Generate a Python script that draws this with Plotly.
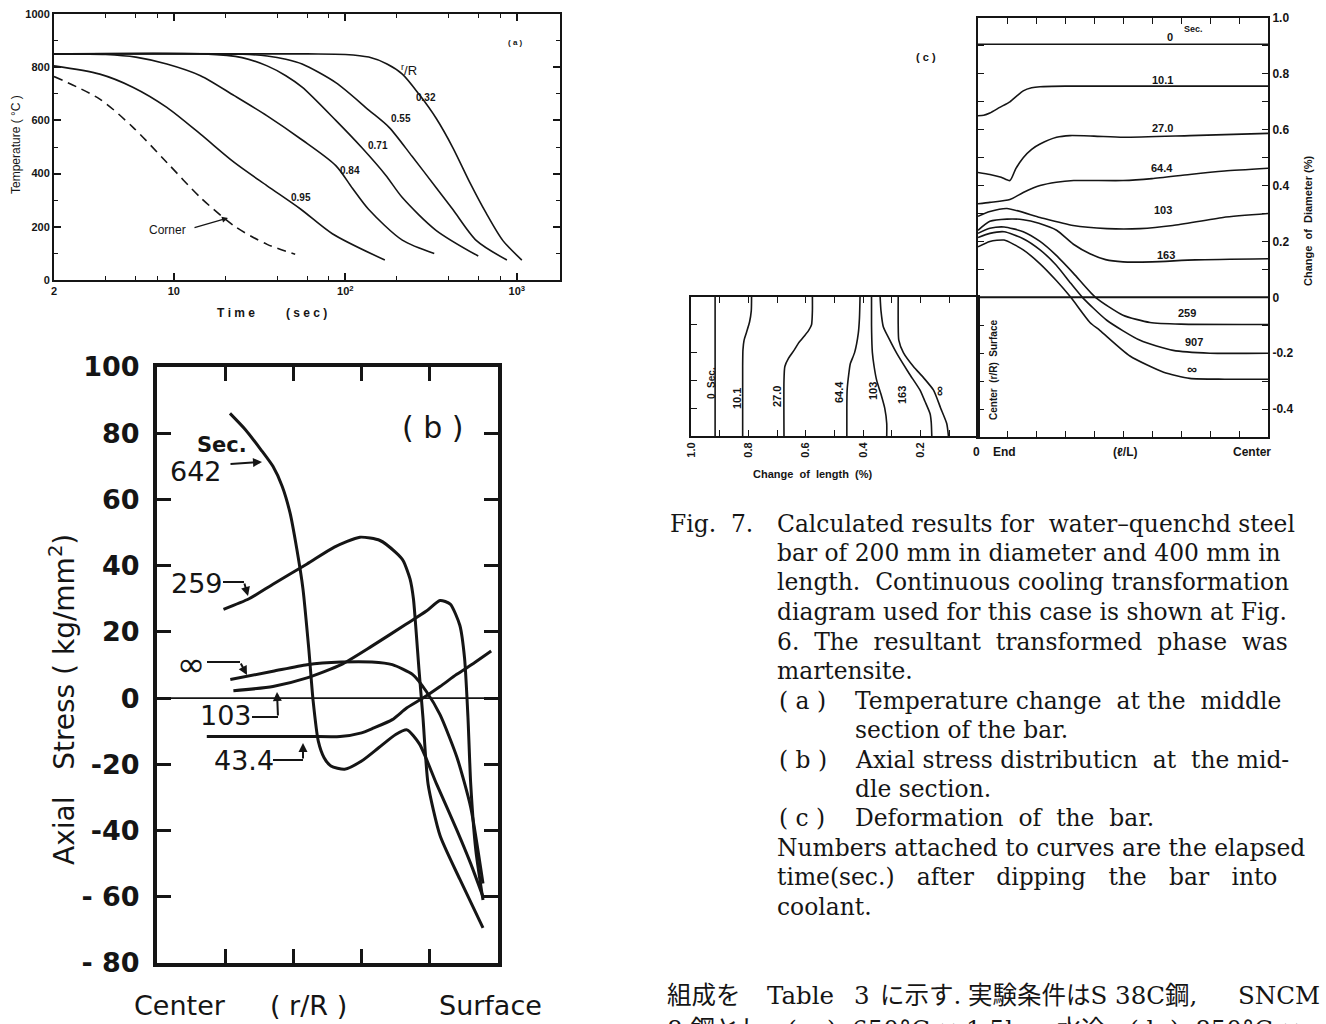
import numpy as np
import plotly.graph_objects as go

W, H = 1326, 1024
INK = "#151515"
SANS = "DejaVu Sans"
ARIAL = "Liberation Sans"
SERIF = "DejaVu Serif, Noto Sans CJK JP"


def px(x):
    return x / W


def py(y):
    return 1 - y / H


# ---------------- (a) temperature vs time ----------------
a_t_corner = [2, 3.7, 5.8, 9.1, 14.3, 22.5, 35, 51]
a_T_corner = [765, 680, 573, 442, 310, 203, 134, 97]
a_t_095 = [2, 3.7, 5.8, 9.1, 14.3, 22.5, 35, 55, 84, 170]
a_T_095 = [805, 774, 724, 649, 548, 442, 354, 266, 174, 75]
a_t_084 = [2, 4, 6, 9.1, 14.3, 22.5, 35, 55, 88, 110, 137, 215, 330]
a_T_084 = [850, 848, 838, 812, 768, 693, 617, 530, 430, 345, 265, 150, 100]
a_t_071 = [2, 15, 25, 35, 45, 56, 88, 125, 172, 215, 338, 596]
a_T_071 = [850, 850, 836, 805, 768, 725, 600, 497, 394, 310, 187, 90]
a_t_055 = [2, 25, 35, 45, 56, 88, 137, 180, 245, 338, 424, 582, 876]
a_T_055 = [850, 849, 842, 830, 812, 742, 639, 574, 465, 348, 265, 148, 75]
a_t_032 = [2, 60, 100, 137, 175, 215, 270, 340, 424, 531, 662, 830, 1070]
a_T_032 = [850, 850, 848, 838, 812, 774, 697, 606, 497, 368, 252, 148, 75]
a_xtickvals = [2, 10, 100, 1000]
a_xticktext = ["2", "10", "10<sup>2</sup>", "10<sup>3</sup>"]
a_xminor = [4, 6, 8, 20, 40, 60, 80, 200, 400, 600, 800]
a_ytickvals = [0, 200, 400, 600, 800, 1000]
a_yticktext = ["0", "200", "400", "600", "800", "1000"]
a_yminor = [100, 300, 500, 700, 900]

# ---------------- (b) axial stress vs r/R ----------------
b_x_642 = [0.214, 0.26, 0.305, 0.34, 0.367, 0.39, 0.41, 0.428, 0.445, 0.458, 0.473,
           0.49, 0.51, 0.55, 0.6, 0.65, 0.7, 0.733, 0.77, 0.82, 0.88, 0.92, 0.956]
b_s_642 = [86, 81, 75, 70, 64, 56, 45, 33, 15, -1, -13,
           -18, -20.5, -21.5, -19, -15, -11, -9.6, -13.9, -26, -40, -50, -60]
b_x_259 = [0.195, 0.27, 0.34, 0.44, 0.52, 0.595, 0.654, 0.70, 0.722, 0.742, 0.752,
           0.76, 0.768, 0.78, 0.795, 0.83, 0.888, 0.956]
b_s_259 = [26.8, 30, 34.4, 40.5, 45.6, 48.6, 47.6, 44, 41.5, 36, 30,
           20, 9, -6, -26, -41.5, -54.7, -69.4]
b_x_inf = [0.215, 0.34, 0.44, 0.54, 0.63, 0.69, 0.75, 0.79, 0.83, 0.88, 0.92, 0.956]
b_s_inf = [5.6, 8.1, 10.1, 10.9, 10.9, 10.1, 7.1, 2, -5, -18, -33, -56]
b_x_103 = [0.224, 0.34, 0.44, 0.54, 0.63, 0.73, 0.79, 0.83, 0.86, 0.888, 0.902,
           0.912, 0.92, 0.935, 0.956]
b_s_103 = [2.2, 3.5, 6.1, 10.1, 15.7, 22.3, 26.3, 29.5, 28.4, 22, 12,
           -6, -26, -46, -61]
b_x_434 = [0.146, 0.3, 0.45, 0.537, 0.6, 0.634, 0.69, 0.732, 0.78, 0.83, 0.878, 0.93, 0.98]
b_s_434 = [-11.6, -11.6, -11.6, -11.6, -10.5, -9.1, -6.5, -3, 0, 3.5, 7.1, 10.6, 14.2]
b_ytickvals = [-80, -60, -40, -20, 0, 20, 40, 60, 80, 100]
b_yticktext = ["- 80", "- 60", "-40", "-20", "0", "20", "40", "60", "80", "100"]
b_xtickvals = [0.2, 0.4, 0.6, 0.8]

# ---------------- (c) change of diameter vs l/L ----------------
c_u_0 = [0, 1]
c_d_0 = [0.906, 0.906]
c_u_101 = [0, 0.02, 0.041, 0.075, 0.11, 0.135, 0.156, 0.185, 0.214, 0.3, 1.0]
c_d_101 = [0.65, 0.652, 0.66, 0.68, 0.70, 0.722, 0.739, 0.75, 0.754, 0.756, 0.756]
c_u_270 = [0, 0.041, 0.08, 0.11, 0.13, 0.156, 0.185, 0.214, 0.271, 0.317, 0.4, 0.501, 0.731, 1.0]
c_d_270 = [0.447, 0.44, 0.43, 0.418, 0.46, 0.5, 0.53, 0.549, 0.573, 0.579, 0.577, 0.573, 0.579, 0.587]
c_u_644 = [0, 0.041, 0.11, 0.156, 0.214, 0.27, 0.33, 0.5, 0.6, 0.73, 0.85, 1.0]
c_d_644 = [0.335, 0.34, 0.35, 0.375, 0.40, 0.412, 0.418, 0.418, 0.425, 0.44, 0.452, 0.462]
c_u_103 = [0, 0.041, 0.1, 0.214, 0.328, 0.445, 0.559, 0.672, 0.845, 1.0]
c_d_103 = [0.29, 0.307, 0.318, 0.286, 0.257, 0.246, 0.246, 0.257, 0.286, 0.30]
c_u_163 = [0, 0.041, 0.1, 0.156, 0.21, 0.271, 0.329, 0.386, 0.44, 0.5, 0.6, 0.75, 1.0]
c_d_163 = [0.24, 0.272, 0.28, 0.278, 0.265, 0.24, 0.19, 0.156, 0.135, 0.127, 0.127, 0.134, 0.138]
c_u_259 = [0, 0.041, 0.09, 0.156, 0.214, 0.27, 0.33, 0.405, 0.5, 0.593, 0.7, 1.0]
c_d_259 = [0.229, 0.247, 0.252, 0.235, 0.2, 0.15, 0.085, 0.0, -0.064, -0.09, -0.096, -0.097]
c_u_907 = [0, 0.041, 0.09, 0.156, 0.214, 0.27, 0.32, 0.36, 0.444, 0.559, 0.673, 0.8, 1.0]
c_d_907 = [0.214, 0.229, 0.235, 0.21, 0.17, 0.115, 0.05, 0.0, -0.082, -0.154, -0.19, -0.2, -0.2]
c_u_inf = [0, 0.041, 0.09, 0.156, 0.214, 0.27, 0.32, 0.386, 0.42, 0.524, 0.64, 0.73, 0.85, 1.0]
c_d_inf = [0.181, 0.2, 0.205, 0.17, 0.12, 0.06, 0.0, -0.09, -0.118, -0.21, -0.268, -0.29, -0.293, -0.293]
c_ytickvals = [-0.4, -0.3, -0.2, -0.1, 0, 0.1, 0.2, 0.3, 0.4, 0.5, 0.6, 0.7, 0.8, 0.9, 1.0]
c_yticktext = ["-0.4", "", "-0.2", "", "0", "", "0.2", "", "0.4", "", "0.6", "", "0.8", "", "1.0"]
c_xtickvals = [0.1, 0.2, 0.3, 0.4, 0.5, 0.6, 0.7, 0.8, 0.9]

# ---------------- (c) change of length vs r/R ----------------
l_r_0 = [0, 1]
l_L_0 = [0.916, 0.916]
l_r_101 = [0, 0.5, 0.62, 0.69, 0.75, 0.82, 0.9, 1.0]
l_L_101 = [0.82, 0.82, 0.819, 0.815, 0.806, 0.796, 0.79, 0.789]
l_r_270 = [0, 0.4, 0.5, 0.56, 0.62, 0.67, 0.72, 0.76, 0.8, 0.9, 1.0]
l_L_270 = [0.676, 0.676, 0.673, 0.66, 0.64, 0.625, 0.605, 0.59, 0.58, 0.577, 0.577]
l_r_644 = [0, 0.2, 0.33, 0.45, 0.52, 0.6, 0.74, 0.85, 1.0]
l_L_644 = [0.457, 0.457, 0.456, 0.45, 0.445, 0.43, 0.417, 0.413, 0.411]
l_r_103 = [0, 0.09, 0.2, 0.3, 0.4, 0.5, 0.6, 0.69, 0.8, 1.0]
l_L_103 = [0.318, 0.318, 0.325, 0.338, 0.353, 0.362, 0.368, 0.37, 0.371, 0.371]
l_r_163 = [0, 0.1, 0.16, 0.25, 0.33, 0.45, 0.594, 0.7, 0.786, 0.9, 1.0]
l_L_163 = [0.161, 0.163, 0.167, 0.185, 0.202, 0.24, 0.283, 0.31, 0.33, 0.338, 0.341]
l_r_inf = [0, 0.09, 0.2, 0.33, 0.42, 0.5, 0.6, 0.69, 0.8, 1.0]
l_L_inf = [0.103, 0.109, 0.13, 0.155, 0.19, 0.225, 0.26, 0.276, 0.278, 0.278]
l_xtickvals = [1.0, 0.9, 0.8, 0.7, 0.6, 0.5, 0.4, 0.3, 0.2, 0.1]
l_xticktext = ["1.0", "", "0.8", "", "0.6", "", "0.4", "", "0.2", ""]
l_ytickvals = [0.2, 0.4, 0.6, 0.8]

fig = go.Figure()


def add(x, y, xa, ya, width=1.5, dash=None, smoothing=0.8):
    fig.add_trace(go.Scatter(
        x=x, y=y, mode="lines", xaxis=xa, yaxis=ya, hoverinfo="skip", showlegend=False,
        line=dict(color=INK, width=width, shape="spline", smoothing=smoothing, dash=dash)))


# (a)
add(a_t_corner, a_T_corner, "x", "y", 1.6, dash="9px,6px")
for t, T in [(a_t_095, a_T_095), (a_t_084, a_T_084), (a_t_071, a_T_071),
             (a_t_055, a_T_055), (a_t_032, a_T_032)]:
    add(t, T, "x", "y", 1.6)
# (b)
for x, s in [(b_x_642, b_s_642), (b_x_259, b_s_259), (b_x_inf, b_s_inf),
             (b_x_103, b_s_103), (b_x_434, b_s_434)]:
    add(x, s, "x2", "y2", 3.0, smoothing=0.6)
# (c) upper
for u, d in [(c_u_0, c_d_0), (c_u_101, c_d_101), (c_u_270, c_d_270), (c_u_644, c_d_644),
             (c_u_103, c_d_103), (c_u_163, c_d_163), (c_u_259, c_d_259),
             (c_u_907, c_d_907), (c_u_inf, c_d_inf)]:
    add(u, d, "x3", "y3", 1.6, smoothing=0.6)
# (c) lower
for L, r in [(l_L_0, l_r_0), (l_L_101, l_r_101), (l_L_270, l_r_270), (l_L_644, l_r_644),
             (l_L_103, l_r_103), (l_L_163, l_r_163), (l_L_inf, l_r_inf)]:
    add(L, r, "x4", "y4", 1.6, smoothing=0.6)


def axis_style(lw, tl, tw, fs=10, family=ARIAL):
    return dict(showline=True, linecolor=INK, linewidth=lw, mirror="ticks", ticks="inside",
                ticklen=tl, tickwidth=tw, tickcolor=INK, showgrid=False, zeroline=False,
                automargin=False,
                tickfont=dict(family=family, size=fs, color=INK, weight="bold"))


minor_a = dict(ticks="inside", ticklen=4, tickwidth=1, tickcolor=INK, showgrid=False)

layout = dict(
    template="none",
    width=W, height=H, autosize=False, margin=dict(l=0, r=0, t=0, b=0, pad=0),
    paper_bgcolor="white", plot_bgcolor="rgba(0,0,0,0)", showlegend=False,
    xaxis=dict(domain=[px(54), px(560)], anchor="y", type="log",
               range=[np.log10(2), 3.252], tickvals=a_xtickvals, ticktext=a_xticktext,
               minor=dict(tickvals=a_xminor, **minor_a), **axis_style(2, 7, 1.5, 11)),
    yaxis=dict(domain=[py(280), py(14)], anchor="x", range=[0, 1000],
               tickvals=a_ytickvals, ticktext=a_yticktext,
               minor=dict(tickvals=a_yminor, **minor_a), **axis_style(2, 7, 1.5, 11)),
    xaxis2=dict(domain=[px(157), px(498)], anchor="y2", range=[0, 1],
                tickvals=b_xtickvals, showticklabels=False, **axis_style(4, 14, 3)),
    yaxis2=dict(domain=[py(963), py(367)], anchor="x2", range=[-80, 100],
                tickvals=b_ytickvals, ticktext=b_yticktext, ticklabelstandoff=8,
                **axis_style(4, 14, 3, 27, SANS)),
    xaxis3=dict(domain=[px(978), px(1268)], anchor="y3", range=[0, 1],
                tickvals=c_xtickvals, showticklabels=False, **axis_style(2, 6, 1.3)),
    yaxis3=dict(domain=[py(437), py(18)], anchor="x3", range=[-0.5, 1.0], side="right",
                tickvals=c_ytickvals, ticktext=c_yticktext, **axis_style(2, 6, 1.3, 12)),
    xaxis4=dict(domain=[px(691), px(978)], anchor="y4", range=[1.0, 0.0],
                tickvals=l_xtickvals, ticktext=l_xticktext, tickangle=-90,
                **axis_style(2, 6, 1.3, 11)),
    yaxis4=dict(domain=[py(436), py(297)], anchor="x4", range=[0, 1],
                tickvals=l_ytickvals, showticklabels=False, **axis_style(2, 6, 1.3)),
)
fig.update_layout(**layout)
fig.update_layout(yaxis4=dict(mirror=True))

shapes = [
    dict(type="line", xref="x2", yref="y2", x0=0, x1=1, y0=0, y1=0,
         line=dict(color=INK, width=1.6)),
    dict(type="line", xref="x3", yref="y3", x0=0, x1=1, y0=0, y1=0,
         line=dict(color=INK, width=2)),
]
annotations = []


def text(x, y, s, size=11, family=ARIAL, bold=False, angle=0, anchor="center"):
    annotations.append(dict(
        x=px(x), y=py(y), xref="paper", yref="paper", text=s, showarrow=False,
        xanchor=anchor, yanchor="middle", textangle=angle,
        font=dict(family=family, size=size, color=INK, weight="bold" if bold else "normal")))


def seg(x0, y0, x1, y1, w=2):
    shapes.append(dict(type="line", xref="paper", yref="paper", x0=px(x0), y0=py(y0),
                       x1=px(x1), y1=py(y1), line=dict(color=INK, width=w)))


def arrow(hx, hy, tx, ty, w=2, size=0.9):
    annotations.append(dict(
        x=px(hx), y=py(hy), xref="paper", yref="paper", text="", showarrow=True,
        ax=tx - hx, ay=ty - hy, arrowhead=2, arrowsize=size, arrowwidth=w, arrowcolor=INK))


# ---- (a) texts ----
text(16, 145, "Temperature ( °C )", 12, angle=-90)
text(236, 313, "T i m e", 12, bold=True)
text(306, 313, "( s e c )", 12, bold=True)
text(515, 42, "( a )", 8, bold=True)
text(409, 70, "<sup>r</sup>/R", 13)
text(426, 97, "0.32", 10, bold=True)
text(401, 118, "0.55", 10, bold=True)
text(378, 145, "0.71", 10, bold=True)
text(350, 170, "0.84", 10, bold=True)
text(301, 197, "0.95", 10, bold=True)
text(167, 230, "Corner", 12)
arrow(228, 218, 193, 228, w=1.2, size=1.0)

# ---- (b) texts ----
text(62, 700, "Axial   Stress ( kg/mm<sup>2</sup>)", 28, SANS, angle=-90)
text(180, 1005, "Center", 27, SANS)
text(308, 1005, "( r/R )", 27, SANS)
text(490, 1005, "Surface", 27, SANS)
text(433, 427, "( b )", 30, SANS)
text(222, 445, "Sec.", 21, SANS, bold=True)
text(196, 471, "642", 27, SANS)
arrow(262, 462, 229, 464)
text(197, 583, "259", 27, SANS)
seg(223, 582, 244, 582)
arrow(248, 596, 244, 582)
text(191, 664, "∞", 34, SANS)
seg(207, 662, 240, 662)
arrow(247, 675, 240, 662)
text(226, 715, "103", 27, SANS)
seg(252, 717, 278, 717)
arrow(277, 692, 278, 717)
text(244, 760, "43.4", 27, SANS)
seg(273, 760, 303, 760)
arrow(303, 743, 303, 760)

# ---- (c) texts ----
text(926, 57, "( c )", 11, bold=True)
text(1170, 37, "0", 11, bold=True)
text(1193, 29, "Sec.", 9, bold=True)
text(1162, 80, "10.1", 11, bold=True)
text(1162, 128, "27.0", 11, bold=True)
text(1162, 168, "64.4", 11, bold=True)
text(1163, 210, "103", 11, bold=True)
text(1166, 255, "163", 11, bold=True)
text(1187, 313, "259", 11, bold=True)
text(1194, 342, "907", 11, bold=True)
text(1192, 369, "∞", 14, bold=True)
text(711, 383, "0  Sec.", 10, bold=True, angle=-90)
text(737, 399, "10.1", 11, bold=True, angle=-90)
text(777, 397, "27.0", 11, bold=True, angle=-90)
text(839, 392, "64.4", 11, bold=True, angle=-90)
text(873, 391, "103", 11, bold=True, angle=-90)
text(902, 395, "163", 11, bold=True, angle=-90)
text(939, 391, "∞", 14, bold=True, angle=-90)
text(993, 370, "Center  (r/R)  Surface", 10, bold=True, angle=-90)
text(812, 474, "Change  of  length  (%)", 11, bold=True)
text(976, 452, "0", 12, bold=True)
text(1004, 452, "End", 12, bold=True)
text(1125, 452, "(ℓ/L)", 12, bold=True)
text(1252, 452, "Center", 12, bold=True)
text(1308, 221, "Change  of  Diameter (%)", 11, bold=True, angle=-90)

# ---- caption ----
cap = [
    (668, 524, "Fig.  7."),
    (775, 524, "Calculated results for  water–quenchd steel"),
    (775, 553, "bar of 200 mm in diameter and 400 mm in"),
    (775, 582, "length.  Continuous cooling transformation"),
    (775, 612, "diagram used for this case is shown at Fig."),
    (775, 642, "6.  The  resultant  transformed  phase  was"),
    (775, 671, "martensite."),
    (777, 701, "( a )"),
    (853, 701, "Temperature change  at the  middle"),
    (853, 730, "section of the bar."),
    (777, 760, "( b )"),
    (853, 760, "Axial stress distributicn  at  the mid-"),
    (853, 789, "dle section."),
    (777, 818, "( c )"),
    (853, 818, "Deformation  of  the  bar."),
    (775, 848, "Numbers attached to curves are the elapsed"),
    (775, 877, "time(sec.)   after   dipping   the   bar   into"),
    (775, 907, "coolant."),
]
for x, y, s in cap:
    text(x, y, s, 23.4, SERIF, anchor="left")

body = [
    (665, 995, "組成を"),
    (765, 995, "Table"),
    (852, 995, "3"),
    (878, 995, "に示す."),
    (966, 995, "実験条件はS 38C鋼,"),
    (1236, 995, "SNCM"),
    (665, 1029, "8 鋼とし,  ( a )  650°C × 1.5h → 水冷,  ( b )  850°C ×"),
]
for x, y, s in body:
    text(x, y, s, 24.5, SERIF, anchor="left")

fig.update_layout(shapes=shapes, annotations=annotations)
fig.write_html("out.html", config={"displayModeBar": False},
               post_script="document.body.style.margin='0';document.body.style.overflow='hidden';")
